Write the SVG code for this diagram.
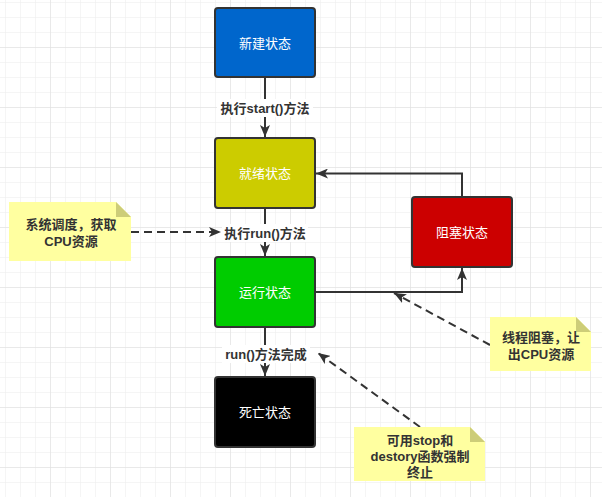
<svg xmlns="http://www.w3.org/2000/svg" width="602" height="497" viewBox="0 0 602 497">
<defs>
<pattern id="gridMinor" x="5" y="2" width="15" height="15" patternUnits="userSpaceOnUse">
<path d="M0,0 H15 M0,0 V15" fill="none" stroke="#ebebeb" stroke-width="1"/>
</pattern>
<pattern id="gridMajor" x="50" y="47" width="60" height="60" patternUnits="userSpaceOnUse">
<path d="M0,0 H60 M0,0 V60" fill="none" stroke="#dedede" stroke-width="1"/>
</pattern>
<marker id="arr" viewBox="0 0 12 10" refX="12" refY="5" markerWidth="12" markerHeight="10" markerUnits="userSpaceOnUse" orient="auto">
<path d="M0,0 L12,5 L0,10 L3,5 Z" fill="#333333"/>
</marker>
</defs>
<style>
.node rect{stroke:#333333;stroke-width:2}
.ntxt{font-family:"Liberation Sans","Noto Sans CJK SC",sans-serif;font-size:13px;fill:#ffffff;text-anchor:middle;dominant-baseline:central}
.edge{fill:none;stroke:#333333;stroke-width:2;marker-end:url(#arr)}
.dash{stroke-dasharray:8 5}
.lbl{font-family:"Liberation Sans","Noto Sans CJK SC",sans-serif;font-size:13px;font-weight:bold;fill:#333333;text-anchor:middle;dominant-baseline:central}
.lblbg{fill:#ffffff}
.note polygon.body{fill:#ffffa0}
.note polygon.fold{fill:#cdcd78}
</style>
<rect width="602" height="497" fill="#ffffff"/>
<rect width="602" height="497" fill="url(#gridMinor)"/>
<rect width="602" height="497" fill="url(#gridMajor)"/>

<g id="connectors">
<line class="edge" x1="265" y1="77" x2="265" y2="137"/>
<line class="edge" x1="265" y1="208" x2="265" y2="256"/>
<line class="edge" x1="265" y1="327" x2="265" y2="376"/>
<path class="edge" d="M315,292 H462 V268"/>
<path class="edge" d="M462,196 V173.5 H316"/>
<line class="edge dash" x1="131" y1="232" x2="221" y2="232"/>
<line class="edge dash" x1="490" y1="345" x2="394" y2="293"/>
<line class="edge dash" x1="420" y1="427" x2="318" y2="353"/>
<rect class="lblbg" x="217" y="99" width="96" height="18"/>
<text class="lbl" x="265" y="108">执行start()方法</text>
<rect class="lblbg" x="222" y="224" width="86" height="18"/>
<text class="lbl" x="265" y="233">执行run()方法</text>
<rect class="lblbg" x="222" y="345" width="88" height="18"/>
<text class="lbl" x="266" y="354">run()方法完成</text>
</g>

<g id="node-new" class="node"><rect x="215" y="8" width="100" height="69" rx="3" fill="#0066cc"/><text class="ntxt" x="265" y="43">新建状态</text></g>
<g id="node-ready" class="node"><rect x="215" y="138" width="100" height="70" rx="3" fill="#cccc00"/><text class="ntxt" x="265" y="173">就绪状态</text></g>
<g id="node-running" class="node"><rect x="215" y="257" width="100" height="70" rx="3" fill="#00cc00"/><text class="ntxt" x="265" y="292">运行状态</text></g>
<g id="node-dead" class="node"><rect x="215" y="377" width="100" height="70" rx="3" fill="#000000"/><text class="ntxt" x="265" y="412">死亡状态</text></g>
<g id="node-blocked" class="node"><rect x="412" y="197" width="100" height="70" rx="3" fill="#cc0000"/><text class="ntxt" x="462" y="232">阻塞状态</text></g>

<g id="note-schedule" class="note">
<polygon class="body" points="9,202 116,202 131,217 131,261 9,261"/>
<polygon class="fold" points="116,202 131,217 116,217"/>
<text class="lbl" x="71" y="224">系统调度，获取</text>
<text class="lbl" x="71" y="241">CPU资源</text>
</g>
<g id="note-block" class="note">
<polygon class="body" points="490,317 576,317 591,332 591,371 490,371"/>
<polygon class="fold" points="576,317 591,332 576,332"/>
<text class="lbl" x="541" y="337">线程阻塞，让</text>
<text class="lbl" x="541" y="354">出CPU资源</text>
</g>
<g id="note-stop" class="note">
<polygon class="body" points="354,427 470,427 485,442 485,481 354,481"/>
<polygon class="fold" points="470,427 485,442 470,442"/>
<text class="lbl" x="420" y="440">可用stop和</text>
<text class="lbl" x="420" y="456">destory函数强制</text>
<text class="lbl" x="420" y="472">终止</text>
</g>
</svg>
